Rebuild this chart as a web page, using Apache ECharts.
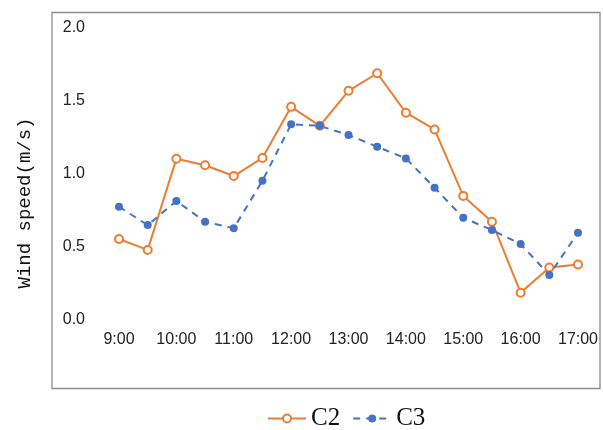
<!DOCTYPE html>
<html>
<head>
<meta charset="utf-8">
<script src="https://cdn.jsdelivr.net/npm/echarts@6/dist/echarts.min.js"></script>
<style>html,body{margin:0;padding:0;background:#fff;}#chart{width:603px;height:430px;}</style>
</head>
<body>
<div id="chart"></div>
<script>
var categories = ['9:00','9:30','10:00','10:30','11:00','11:30','12:00','12:30','13:00','13:30','14:00','14:30','15:00','15:30','16:00','16:30','17:00'];
var c2Values = [0.555,0.48,1.105,1.06,0.986,1.11,1.46,1.33,1.57,1.69,1.42,1.305,0.85,0.673,0.187,0.36,0.38];
var c3Values = [0.776,0.65,0.815,0.673,0.628,0.954,1.34,1.33,1.267,1.187,1.107,0.906,0.70,0.616,0.52,0.308,0.598];
var yTicks = [0, 0.5, 1.0, 1.5, 2.0];

var chart = echarts.init(document.getElementById('chart'));
chart.setOption({
  animation: false,
  backgroundColor: '#fff',
  graphic: [{
    type: 'rect',
    shape: {x: 52, y: 12.5, width: 548, height: 376},
    style: {fill: 'none', stroke: '#8c8c8c', lineWidth: 1.3},
    silent: true
  }, {
    type: 'text',
    x: 25, y: 203,
    rotation: Math.PI / 2,
    style: {
      text: 'Wind speed(m/s)',
      font: '19px "Liberation Mono", monospace',
      fill: '#111',
      align: 'center',
      verticalAlign: 'middle'
    }
  }],
  legend: {
    left: 262,
    top: 401,
    itemWidth: 38,
    itemHeight: 10,
    itemGap: 12,
    textStyle: {fontFamily: '"Liberation Serif", serif', fontSize: 25, color: '#111'},
    data: ['C2', 'C3']
  },
  grid: {left: 119, right: 25, top: 28, bottom: 110},
  xAxis: {
    type: 'category',
    data: categories,
    boundaryGap: false,
    axisLine: {show: false},
    axisTick: {show: false},
    splitLine: {show: false},
    axisLabel: {
      interval: 1,
      margin: 12,
      fontFamily: '"Liberation Sans", Arial, sans-serif',
      fontSize: 16,
      color: '#222'
    }
  },
  yAxis: {
    type: 'value',
    min: 0, max: 2, interval: 0.5,
    axisLine: {show: false},
    axisTick: {show: false},
    splitLine: {show: false},
    axisLabel: {
      margin: 34,
      fontFamily: '"Liberation Sans", Arial, sans-serif',
      fontSize: 16,
      color: '#222',
      formatter: function (v) { return yTicks.indexOf(v) >= 0 ? v.toFixed(1) : ''; }
    }
  },
  series: [{
    name: 'C2',
    type: 'line',
    data: c2Values,
    symbol: 'emptyCircle',
    symbolSize: 8,
    itemStyle: {color: '#ED7D31', borderWidth: 1.2},
    lineStyle: {color: '#ED7D31', width: 2}
  }, {
    name: 'C3',
    type: 'line',
    data: c3Values,
    symbol: 'circle',
    symbolSize: 8,
    itemStyle: {color: '#4472C4'},
    lineStyle: {color: '#4472C4', width: 2, type: [7, 6]}
  }]
});
</script>
</body>
</html>
